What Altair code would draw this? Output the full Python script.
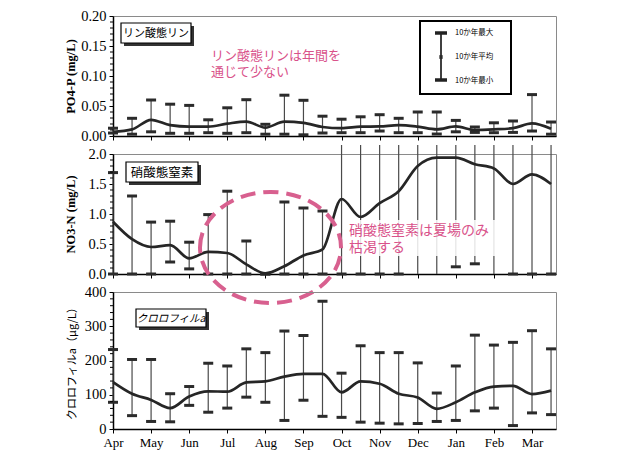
import altair as alt
import pandas as pd

# ---- data: semi-monthly sampling, 10-year statistics ----
MONTHS = ["Apr", "May", "Jun", "Jul", "Aug", "Sep", "Oct", "Nov", "Dec", "Jan", "Feb", "Mar"]
T = [0.0, 0.5, 1.0, 1.5, 2.0, 2.5, 3.0, 3.5, 4.0, 4.5, 5.0, 5.5,
     6.0, 6.5, 7.0, 7.5, 8.0, 8.5, 9.0, 9.5, 10.0, 10.5, 11.0, 11.5]

po4_mean = [0.007, 0.011, 0.027, 0.018, 0.0155, 0.0155, 0.0205, 0.024, 0.014, 0.024, 0.022, 0.015,
            0.013, 0.0155, 0.016, 0.018, 0.0155, 0.011, 0.016, 0.010, 0.011, 0.013, 0.021, 0.012]
po4_max = [0.013, 0.0295, 0.060, 0.053, 0.051, 0.027, 0.047, 0.0605, 0.0195, 0.068, 0.0595, 0.033,
           0.028, 0.032, 0.0355, 0.0295, 0.040, 0.040, 0.026, 0.015, 0.022, 0.025, 0.069, 0.0233]
po4_min = [0.005, 0.003, 0.007, 0.0045, 0.0045, 0.0055, 0.0045, 0.0055, 0.003, 0.003, 0.002, 0.005,
           0.0055, 0.0055, 0.0083, 0.0055, 0.0055, 0.0033, 0.007, 0.006, 0.0055, 0.006, 0.0083, 0.003]

no3_mean = [0.87, 0.58, 0.45, 0.48, 0.26, 0.37, 0.35, 0.16, 0.01, 0.13, 0.31, 0.41,
            1.25, 0.95, 1.18, 1.38, 1.80, 1.94, 1.94, 1.83, 1.76, 1.50, 1.66, 1.50]
no3_max = [1.69, 1.30, 0.865, 0.88, 0.53, 0.99, 1.38, 0.55, 0.0, 1.20, 1.10, 1.05,
           2.15, 2.15, 2.15, 2.15, 2.15, 2.15, 2.15, 2.15, 2.15, 2.15, 2.15, 2.15]
no3_min = [0.0, 0.0, 0.0, 0.20, 0.085, 0.0, 0.0, 0.0, 0.0, 0.0, 0.0, 0.0,
           0.0, 0.0, 0.0, 0.0, None, None, 0.12, 0.17, None, 0.0, 0.0, 0.0]

chl_mean = [137, 103, 85, 61, 95, 110, 109, 136, 139, 153, 161, 161,
            107, 139, 132, 103, 92, 59, 78, 107, 124, 126, 102, 112]
chl_max = [232, 203, 203, 103, 124, 192, 184, 234, 223, 286, 273, 373,
           163, 243, 223, 223, 193, 105, 184, 274, 245, 253, 287, 234]
chl_min = [78, 39, 22, 21, 69, 49, 61, 93, 78, 25, 84, 37,
           34, 20, 17, 15, 16, 22, 25, 53, 61, 10, 47, 42]

PO4_TICKS = [0.0, 0.05, 0.10, 0.15, 0.20]
NO3_TICKS = [0.0, 0.5, 1.0, 1.5, 2.0]
CHL_TICKS = [0, 100, 200, 300, 400]

# ---- styling ----
W = 443
H1, H2, H3 = 120, 120, 137
X_DOMAIN = [0, 11.63]
SERIF = "Liberation Serif"
JP = "Noto Sans CJK JP"
PINK = "#d9528a"
LINE = "#262626"
BAR = "#4a4a4a"
CAP = "#2b2b2b"

ONE = pd.DataFrame({"k": [0]})


def x_enc(show_labels):
    month_expr = "[" + ",".join(f"'{m}'" for m in MONTHS) + "][datum.value]"
    kw = dict(values=list(range(12)), title=None, grid=False, tickSize=4,
              tickColor="black", domainColor="black", domainWidth=1.5,
              labels=show_labels)
    if show_labels:
        kw.update(labelExpr=month_expr, labelFont=SERIF, labelFontSize=13,
                  labelColor="black", labelPadding=3, labelFlush=False)
    return alt.X("t:Q", scale=alt.Scale(domain=X_DOMAIN, nice=False, zero=False),
                 axis=alt.Axis(**kw))


def y_enc(field, top, ticks, fmt, title, tfont, tsize, h):
    return alt.Y(f"{field}:Q",
                 scale=alt.Scale(domain=[0, top], nice=False, zero=True),
                 axis=alt.Axis(values=ticks, format=fmt, title=title, grid=False,
                               titleFont=tfont, titleFontSize=tsize, titleColor="black",
                               titleFontWeight="bold" if tfont == SERIF else "normal",
                               titleX=-36, titleY=h / 2, titleAngle=270,
                               labelFont=SERIF, labelFontSize=14.5, labelColor="black",
                               labelPadding=3, tickSize=4, tickColor="black",
                               labelFlush=False,
                               domainColor="black", domainWidth=1.5))


def label_box(x0, x1, y0, y1, text, size, italic=False):
    shadow = alt.Chart(ONE).mark_rect(color="#333333").encode(
        x=alt.value(x0 + 3), x2=alt.value(x1 + 3), y=alt.value(y0 + 3), y2=alt.value(y1 + 3))
    box = alt.Chart(ONE).mark_rect(fill="white", stroke="black", strokeWidth=1.2).encode(
        x=alt.value(x0), x2=alt.value(x1), y=alt.value(y0), y2=alt.value(y1))
    txt = alt.Chart(ONE).mark_text(font=JP, fontSize=size, color="black",
                                   fontStyle="italic" if italic else "normal",
                                   align="center", baseline="middle").encode(
        x=alt.value((x0 + x1) / 2), y=alt.value((y0 + y1) / 2 + 0.5), text=alt.value(text))
    return [shadow, box, txt]


def panel(mean, hi, lo, top, ticks, minor, fmt, title, tfont, tsize, h, show_x):
    lo_fill = [v if v is not None else 0.0 for v in lo]
    df = pd.DataFrame({"t": T, "mean": mean, "hi": hi, "lo": lo_fill})
    caps = pd.DataFrame(
        [{"t": t, "v": v} for t, v in zip(T, hi) if v <= top] +
        [{"t": t, "v": v} for t, v in zip(T, lo) if v is not None])
    minor_df = pd.DataFrame({"v": minor})
    X = x_enc(show_x)

    def Y(f):
        return y_enc(f, top, ticks, fmt, title, tfont, tsize, h)

    bars = alt.Chart(df).mark_rule(color=BAR, strokeWidth=1.2, clip=False).encode(
        x=X, y=Y("lo"), y2="hi:Q")
    cap = alt.Chart(caps).mark_rule(color=CAP, strokeWidth=3, xOffset=-5, x2Offset=5).encode(
        x=X, x2="t:Q", y=Y("v"))
    line = alt.Chart(df).mark_line(color=LINE, strokeWidth=2.7, interpolate="monotone").encode(
        x=X, y=Y("mean"))
    mticks = alt.Chart(minor_df).mark_rule(color="black", strokeWidth=1).encode(
        x=alt.value(-3), x2=alt.value(0), y=Y("v"))
    return [bars, cap, line, mticks]


def pink_text(x, y, text, size):
    return alt.Chart(ONE).mark_text(font=JP, fontSize=size, color=PINK, align="left",
                                    baseline="middle").encode(
        x=alt.value(x), y=alt.value(y), text=alt.value(text))


# ---- panel 1: phosphate ----
p1_layers = panel(po4_mean, po4_max, po4_min, 0.20, PO4_TICKS,
                  [round(0.01 * i, 2) for i in range(1, 20) if i % 5],
                  ".2f", "PO4-P (mg/L)", SERIF, 12.5, H1, False)
p1_layers += label_box(8, 78, 7, 27, "リン酸態リン", 11)
p1_layers += [pink_text(98, 40, "リン酸態リンは年間を", 13),
              pink_text(98, 56, "通じて少ない", 13)]

# legend of the error-bar glyph
leg = [
    alt.Chart(ONE).mark_rect(fill="white", stroke="black", strokeWidth=2).encode(
        x=alt.value(307), x2=alt.value(398), y=alt.value(5), y2=alt.value(78)),
    alt.Chart(ONE).mark_rule(color="black", strokeWidth=1.5).encode(
        x=alt.value(328), y=alt.value(17), y2=alt.value(64)),
    alt.Chart(ONE).mark_rule(color="#222", strokeWidth=3.5).encode(
        x=alt.value(322), x2=alt.value(334), y=alt.value(17)),
    alt.Chart(ONE).mark_rule(color="#222", strokeWidth=3.5).encode(
        x=alt.value(322), x2=alt.value(334), y=alt.value(64)),
    alt.Chart(ONE).mark_point(shape="square", filled=True, color="#222", size=14).encode(
        x=alt.value(328), y=alt.value(41)),
]
for yy, s in [(17, "10か年最大"), (41, "10か年平均"), (65, "10か年最小")]:
    leg.append(alt.Chart(ONE).mark_text(font=JP, fontSize=7.5, color="black", align="left",
                                        baseline="middle").encode(
        x=alt.value(342), y=alt.value(yy), text=alt.value(s)))
p1_layers += leg
p1 = alt.layer(*p1_layers).properties(width=W, height=H1)

# ---- panel 2: nitrate ----
p2_layers = panel(no3_mean, no3_max, no3_min, 2.0, NO3_TICKS,
                  [round(0.1 * i, 1) for i in range(1, 20) if i % 5],
                  ".1f", "NO3-N (mg/L)", SERIF, 12.5, H2, False)
p2_layers += label_box(13, 85, 8, 28, "硝酸態窒素", 12.5)
ellipse = "M-1,0A1,0.787,0,1,1,1,0A1,0.787,0,1,1,-1,0Z"
p2_layers.append(
    alt.Chart(ONE).mark_point(shape=ellipse, size=141 * 141, filled=False, stroke="#d8608f",
                              strokeWidth=4, strokeDash=[15, 8], opacity=1).encode(
        x=alt.value(157.5), y=alt.value(93.5)))
p2_layers.append(
    alt.Chart(ONE).mark_rect(fill="white", opacity=0.85).encode(
        x=alt.value(233), x2=alt.value(390), y=alt.value(66), y2=alt.value(102)))
p2_layers += [pink_text(236, 77, "硝酸態窒素は夏場のみ", 14),
              pink_text(236, 94, "枯渇する", 14)]
p2 = alt.layer(*p2_layers).properties(width=W, height=H2)

# ---- panel 3: chlorophyll a ----
p3_layers = panel(chl_mean, chl_max, chl_min, 400, CHL_TICKS,
                  [20 * i for i in range(1, 20) if i % 5],
                  "d", "クロロフィルa（μg/L）", JP, 11, H3, True)
p3_layers += label_box(23, 93, 17, 35, "クロロフィルa", 10.5, italic=True)
p3 = alt.layer(*p3_layers).properties(width=W, height=H3)

chart = alt.vconcat(p1, p2, p3, spacing=18, bounds="flush").properties(
    padding={"left": 63, "top": 7, "right": 5, "bottom": 5},
    background="white",
).configure_view(stroke="#8a8a8a", strokeWidth=1)

chart.save("out.html", embed_options={"renderer": "svg", "actions": False})
